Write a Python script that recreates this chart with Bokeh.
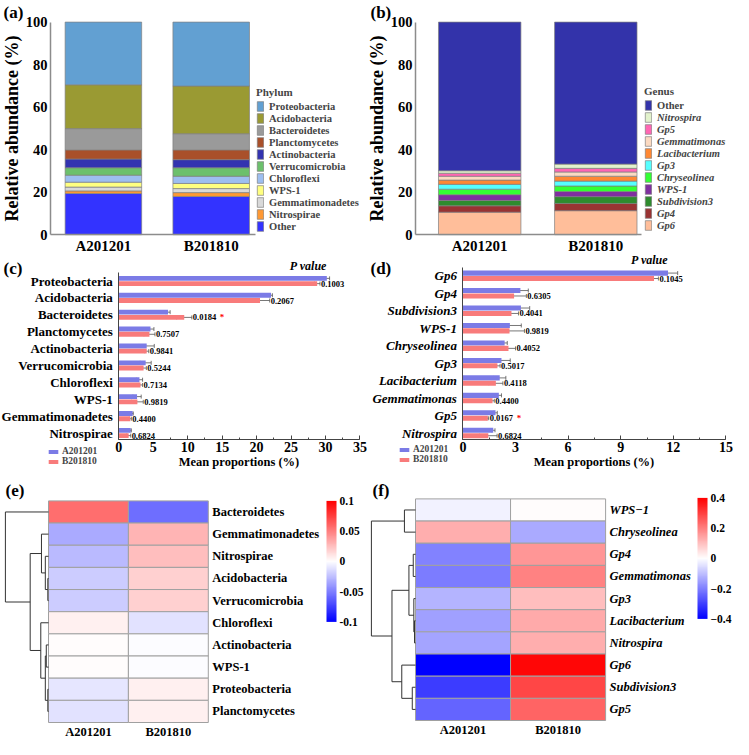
from bokeh.plotting import figure
from bokeh.models import (ColumnDataSource, Legend, LegendItem, FixedTicker, Whisker, TeeHead,
                          LinearColorMapper, ColorBar, Label, Range1d, SingleIntervalTicker)
from bokeh.layouts import column, row
from bokeh.transform import linear_cmap
from bokeh.embed import file_html
from bokeh.resources import INLINE
from bokeh.core.properties import value

FONT = "Liberation Serif"

# ---------------- data ----------------
samples = ["A201201", "B201810"]
abund_ticks = [0, 20, 40, 60, 80, 100]

# (a) phylum composition (stack order bottom -> top)
phylum_names = ["Other", "Nitrospirae", "Gemmatimonadetes", "WPS-1", "Chloroflexi", "Verrucomicrobia",
                "Actinobacteria", "Planctomycetes", "Bacteroidetes", "Acidobacteria", "Proteobacteria"]
phylum_A = [19.4, 1.2, 1.8, 2.3, 3.3, 3.5, 4.1, 4.3, 10.0, 20.6, 29.5]
phylum_B = [18.0, 1.8, 1.9, 2.4, 3.4, 4.0, 3.8, 4.6, 7.6, 22.4, 30.1]
phylum_colors = ["#3333FF", "#FF9933", "#D9D9D9", "#FFFF80", "#9DBEF0", "#6CC06C",
                 "#3333B0", "#A9502A", "#9A9A9A", "#9A9A33", "#62A0D2"]

# (b) genus composition (stack order bottom -> top)
genus_names = ["Gp6", "Gp4", "Subdivision3", "WPS-1", "Chryseolinea", "Gp3", "Lacibacterium",
               "Gemmatimonas", "Gp5", "Nitrospira", "Other"]
genus_A = [10.6, 3.0, 2.5, 2.7, 2.6, 2.3, 2.0, 1.8, 1.4, 1.2, 69.9]
genus_B = [11.3, 3.4, 3.2, 2.4, 2.6, 2.3, 2.3, 2.0, 1.7, 2.0, 66.8]
genus_colors = ["#FFBE9A", "#993333", "#2E8B2E", "#7F2F9F", "#33FF33", "#55FFFF", "#FF8833",
                "#FBDAC2", "#FF66B3", "#E2F2CC", "#3333AA"]

# (c) phylum mean proportions
c_names = ["Proteobacteria", "Acidobacteria", "Bacteroidetes", "Planctomycetes", "Actinobacteria",
           "Verrucomicrobia", "Chloroflexi", "WPS-1", "Gemmatimonadetes", "Nitrospirae"]
c_A = [30.2, 22.1, 7.15, 4.6, 4.05, 3.9, 3.0, 2.65, 2.0, 1.72]
c_A_err = [0.4, 0.2, 0.3, 0.5, 1.1, 0.8, 0.45, 0.6, 0.1, 0.1]
c_B = [28.8, 20.5, 9.5, 4.45, 4.05, 3.6, 3.15, 2.7, 1.67, 1.43]
c_B_err = [0.4, 1.4, 1.1, 0.8, 0.3, 0.4, 0.3, 0.85, 0.15, 0.3]
c_p = ["0.1003", "0.2067", "0.0184", "0.7507", "0.9841", "0.5244", "0.7134", "0.9819", "0.4400", "0.6824"]
c_sig = [False, False, True, False, False, False, False, False, False, False]

# (d) genus mean proportions
d_names = ["Gp6", "Gp4", "Subdivision3", "WPS-1", "Chryseolinea", "Gp3", "Lacibacterium",
           "Gemmatimonas", "Gp5", "Nitrospira"]
d_A = [11.7, 3.28, 3.31, 2.68, 2.38, 2.2, 2.1, 2.05, 1.86, 1.73]
d_A_err = [0.55, 0.45, 0.5, 0.65, 0.15, 0.5, 0.35, 0.15, 0.1, 0.1]
d_B = [10.9, 2.92, 2.77, 2.66, 2.6, 1.97, 1.88, 1.69, 1.42, 1.45]
d_B_err = [0.25, 0.7, 0.4, 0.85, 0.4, 0.15, 0.4, 0.1, 0.05, 0.5]
d_p = ["0.1045", "0.6305", "0.4041", "0.9819", "0.4052", "0.5017", "0.4118", "0.4400", "0.0167", "0.6824"]
d_sig = [False, False, False, False, False, False, False, False, True, False]

# (e) phylum heatmap (rows top -> bottom)
e_names = ["Bacteroidetes", "Gemmatimonadetes", "Nitrospirae", "Acidobacteria", "Verrucomicrobia",
           "Chloroflexi", "Actinobacteria", "WPS-1", "Proteobacteria", "Planctomycetes"]
e_A = [0.057, -0.033, -0.027, -0.020, -0.020, 0.006, 0.001, 0.001, -0.010, -0.011]
e_B = [-0.057, 0.029, 0.025, 0.018, 0.018, -0.011, -0.001, -0.001, 0.006, 0.006]
e_merges = [(3, 4), (8, 9), (6, 7), (2, 10), (12, 11), (1, 13), (5, 14), (15, 16), (0, 17)]
e_heights = [0.7, 0.7, 2.3, 3.3, 3.3, 7.3, 8.0, 19.0, 44.7]
e_cb_ticks = [-0.1, -0.05, 0, 0.05, 0.1]
e_cb_labels = ["-0.1", "-0.05", "0", "0.05", "0.1"]

# (f) genus heatmap (rows top -> bottom)
f_names = ["WPS\u22121", "Chryseolinea", "Gp4", "Gemmatimonas", "Gp3", "Lacibacterium",
           "Nitrospira", "Gp6", "Subdivision3", "Gp5"]
f_A = [-0.02, 0.125, -0.196, -0.204, -0.118, -0.149, -0.141, -0.40, -0.306, -0.243]
f_B = [0.005, -0.133, 0.165, 0.196, 0.102, 0.133, 0.125, 0.39, 0.29, 0.243]
f_merges = [(0, 1), (2, 3), (5, 6), (4, 12), (11, 13), (8, 9), (7, 15), (14, 16), (10, 17)]
f_heights = [11.3, 2.3, 1.0, 1.7, 6.7, 3.3, 14.0, 24.0, 45.0]
f_cb_ticks = [-0.4, -0.2, 0, 0.2, 0.4]
f_cb_labels = ["\u22120.4", "\u22120.2", "0", "0.2", "0.4"]

# ---------------- styling ----------------
A_COL = "#7B7BE6"
B_COL = "#F87B7B"
ERR_COL = "#555555"
AXIS_COL = "#8C8C8C"
ROW1_H, ROW2_H, ROW3_H = 254, 215, 270
W_L, W_R = 367, 366


def bwr(n=256):
    cols = []
    for i in range(n):
        t = i / (n - 1)
        if t < 0.5:
            s = t / 0.5
            r = g = int(round(255 * s)); b = 255
        else:
            s = (t - 0.5) / 0.5
            r = 255; g = b = int(round(255 * (1 - s)))
        cols.append("#%02x%02x%02x" % (r, g, b))
    return cols


PAL = bwr()


class Map:
    """pixel <-> data mapping for a figure whose frame fills the whole figure"""
    def __init__(self, d0, p0, d1, p1, size):
        self.u = (d1 - d0) / (p1 - p0)
        self.start = d0 - p0 * self.u
        self.end = self.start + size * self.u

    def data(self, px):
        return self.start + px * self.u

    def rng(self):
        return Range1d(self.start, self.end)


def xmap(d0, p0, d1, p1, W):
    return Map(d0, p0, d1, p1, W)


def ymap(d_bot, p_bot, d_top, p_top, H):
    # pixels are measured from the top of the figure
    return Map(d_bot, H - p_bot, d_top, H - p_top, H)


def base_fig(W, H, xm, ym, **kw):
    p = figure(width=W, height=H, x_range=xm.rng(), y_range=ym.rng(), output_backend="svg",
               toolbar_location=None, title=None, min_border=0, **kw)
    p.outline_line_color = None
    p.grid.visible = False
    p.background_fill_color = "white"
    p.border_fill_color = "white"
    return p


def letter_label(p, text, x, y_top, H):
    p.add_layout(Label(x=x, y=H - y_top, x_units="screen", y_units="screen", text=text,
                       text_baseline="top", text_font=FONT, text_font_size="17px",
                       text_font_style="bold", text_color="black"))


def axis_fonts(ax, size, style="bold"):
    ax.major_label_text_font = FONT
    ax.major_label_text_font_size = size
    ax.major_label_text_font_style = style
    ax.major_label_text_color = "black"
    ax.axis_label_text_font = FONT
    ax.axis_label_text_font_style = "bold"
    ax.axis_label_text_color = "black"


def style_legend(lg, style, size="10.5px"):
    lg.label_text_font = FONT
    lg.label_text_font_size = size
    lg.label_text_font_style = style
    lg.title_text_font = FONT
    lg.title_text_font_size = "11px"
    lg.title_text_font_style = "bold"
    lg.title_standoff = 2
    lg.glyph_width = 8
    lg.glyph_height = 12
    lg.label_height = 12
    lg.label_standoff = 5
    lg.spacing = 0
    lg.padding = 0
    lg.margin = 0
    lg.border_line_color = None
    lg.background_fill_alpha = 0


def stacked_panel(letter, names, va, vb, colors, legend_title, W, px1, px2, px_axis, px_axis_end,
                  leg_x, leg_bottom, italic):
    H = ROW1_H
    xm = xmap(1, px1, 2, px2, W)
    ym = ymap(0, 234.2, 100, 21.6, H)
    p = base_fig(W, H, xm, ym)
    letter_label(p, letter, 3, 2, H)
    keys = ["s%d" % i for i in range(len(names))]
    data = {"x": [1, 2]}
    for k, a, b in zip(keys, va, vb):
        data[k] = [a, b]
    src = ColumnDataSource(data)
    rs = p.vbar_stack(keys, x="x", width=0.71, source=src, color=colors,
                      line_color="#808080", line_width=0.7)
    order = list(reversed(range(len(names))))
    if italic:
        top_items = [LegendItem(label=names[i], renderers=[rs[i]]) for i in order if names[i] == "Other"]
        rest = [LegendItem(label=names[i], renderers=[rs[i]]) for i in order if names[i] != "Other"]
        lg2 = Legend(items=rest, location=(leg_x, leg_bottom))
        style_legend(lg2, "bold italic")
        lg1 = Legend(items=top_items, title=legend_title, location=(leg_x, leg_bottom + 12 * len(rest)))
        style_legend(lg1, "bold")
        p.add_layout(lg2)
        p.add_layout(lg1)
    else:
        items = [LegendItem(label=names[i], renderers=[rs[i]]) for i in order]
        lg = Legend(items=items, title=legend_title, location=(leg_x, leg_bottom))
        style_legend(lg, "bold")
        p.add_layout(lg)
    x_lo = xm.data(px_axis)
    p.xaxis.fixed_location = 0
    p.xaxis.bounds = (x_lo, xm.data(px_axis_end))
    p.xaxis.ticker = FixedTicker(ticks=[1, 2])
    p.xaxis.major_label_overrides = {1: samples[0], 2: samples[1]}
    p.yaxis.fixed_location = x_lo
    p.yaxis.bounds = (0, 100)
    p.yaxis.ticker = FixedTicker(ticks=abund_ticks)
    p.yaxis.axis_label = "Relative abundance (%)"
    for ax in (p.xaxis[0], p.yaxis[0]):
        ax.axis_line_color = AXIS_COL
        ax.axis_line_width = 1.5
        ax.major_tick_line_color = None
        ax.minor_tick_line_color = None
        ax.major_tick_out = 0
        ax.major_tick_in = 0
    axis_fonts(p.xaxis[0], "15px")
    axis_fonts(p.yaxis[0], "14.5px")
    p.yaxis.axis_label_text_font_size = "18px"
    p.yaxis.axis_label_standoff = 1
    p.xaxis.major_label_standoff = 3
    p.yaxis.major_label_standoff = 3
    return p


def bar_panel(letter, names, A, A_err, B, B_err, pvals, sig, xmax, step, label_style, W,
              px0, pxmax, py_top, py_bot, leg_x, leg_bottom):
    H = ROW2_H
    n = len(names)
    pos = list(range(n, 0, -1))
    xm = xmap(0, px0, xmax, pxmax, W)
    ym = ymap(1, py_bot, n, py_top, H)
    p = base_fig(W, H, xm, ym)
    letter_label(p, letter, 3, 4, H)
    yA = [v + 0.155 for v in pos]
    yB = [v - 0.155 for v in pos]
    src = ColumnDataSource(dict(
        yA=yA, yB=yB, A=A, B=B,
        A_lo=[a - e for a, e in zip(A, A_err)], A_hi=[a + e for a, e in zip(A, A_err)],
        B_lo=[b - e for b, e in zip(B, B_err)], B_hi=[b + e for b, e in zip(B, B_err)],
        tx=[b + e for b, e in zip(B, B_err)], p=pvals))
    rA = p.hbar(y="yA", left=0, right="A", height=0.29, source=src, fill_color=A_COL, line_color=None)
    rB = p.hbar(y="yB", left=0, right="B", height=0.29, source=src, fill_color=B_COL, line_color=None)
    for base, lo, hi in (("yA", "A_lo", "A_hi"), ("yB", "B_lo", "B_hi")):
        w = Whisker(source=src, base=base, lower=lo, upper=hi, dimension="width",
                    line_color=ERR_COL, line_width=0.8,
                    upper_head=TeeHead(size=4, line_color=ERR_COL, line_width=0.8),
                    lower_head=TeeHead(size=4, line_color=ERR_COL, line_width=0.8))
        p.add_layout(w)
    p.text(x="tx", y="yB", text="p", source=src, text_font=value(FONT), text_font_size="8.5px",
           text_font_style="bold", text_baseline="middle", x_offset=1, text_color="black")
    sig_src = ColumnDataSource(dict(
        x=[t for t, s in zip(src.data["tx"], sig) if s],
        y=[y for y, s in zip(yB, sig) if s]))
    p.text(x="x", y="y", text=value("*"), source=sig_src, text_font=value(FONT), text_font_size="9px",
           text_font_style="bold", text_baseline="middle", x_offset=28, text_color="red")
    p.add_layout(Label(x=max(A), y=n + 0.5, text="P value", text_align="right", text_baseline="bottom",
                       text_font=FONT, text_font_size="12px", text_font_style="bold italic",
                       text_color="black"))
    lg = Legend(items=[LegendItem(label=samples[0], renderers=[rA]),
                       LegendItem(label=samples[1], renderers=[rB])], location=(leg_x, leg_bottom))
    lg.label_text_font = FONT
    lg.label_text_font_size = "9.5px"
    lg.label_text_font_style = "bold"
    lg.glyph_width = 12
    lg.glyph_height = 5
    lg.label_height = 7
    lg.label_standoff = 3
    lg.spacing = 0
    lg.padding = 0
    lg.margin = 0
    lg.border_line_color = None
    lg.background_fill_alpha = 0
    p.add_layout(lg)
    p.xaxis.fixed_location = 0.6
    p.xaxis.bounds = (0, xmax)
    p.xaxis.ticker = SingleIntervalTicker(interval=step, num_minor_ticks=2)
    p.xaxis.axis_label = "Mean proportions (%)"
    p.yaxis.fixed_location = 0
    p.yaxis.bounds = (0.6, n + 0.5)
    p.yaxis.ticker = FixedTicker(ticks=pos)
    p.yaxis.major_label_overrides = {y: nm for y, nm in zip(pos, names)}
    for ax in (p.xaxis[0], p.yaxis[0]):
        ax.axis_line_color = "#444444"
        ax.axis_line_width = 1
    p.yaxis.major_tick_line_color = None
    p.yaxis.minor_tick_line_color = None
    p.yaxis.major_tick_out = 0
    p.xaxis.major_tick_in = 4
    p.xaxis.major_tick_out = 0
    p.xaxis.minor_tick_in = 2
    p.xaxis.minor_tick_out = 0
    p.xaxis.major_tick_line_color = "#444444"
    p.xaxis.minor_tick_line_color = "#444444"
    axis_fonts(p.xaxis[0], "14px")
    axis_fonts(p.yaxis[0], "13px", label_style)
    p.xaxis.axis_label_text_font_size = "12.5px"
    p.xaxis.axis_label_standoff = 0
    p.xaxis.major_label_standoff = 2
    p.yaxis.major_label_standoff = 6
    return p


def dendro_lines(n, merges, heights, leaf_x, scale):
    pos = {i: (leaf_x, n - 1 - i) for i in range(n)}
    xs, ys = [], []
    for k, ((a, b), h) in enumerate(zip(merges, heights)):
        xa, ya = pos[a]
        xb, yb = pos[b]
        xh = leaf_x - h * scale
        xs.append([xa, xh, xh, xb])
        ys.append([ya, ya, yb, yb])
        pos[n + k] = (xh, (ya + yb) / 2)
    return xs, ys


def heat_panel(letter, names, va, vb, lim, cb_ticks, cb_labels, merges, heights, label_style, W,
               px_left, px_right, py_top, py_bot, px_root, cb_x, cb_top, cb_h):
    H = ROW3_H
    n = len(names)
    xm = xmap(-0.5, px_left, 1.5, px_right, W)
    ym = ymap(-0.5, py_bot, n - 0.5, py_top, H)
    p = base_fig(W, H, xm, ym, y_axis_location="right")
    letter_label(p, letter, 5, 11, H)
    src = ColumnDataSource(dict(
        x=[0] * n + [1] * n,
        y=[n - 1 - i for i in range(n)] * 2,
        v=list(va) + list(vb)))
    p.rect(x="x", y="y", width=1, height=1, source=src,
           fill_color=linear_cmap("v", PAL, -lim, lim), line_color="#A0A0A0", line_width=1)
    scale = (-0.5 - xm.data(px_root)) / max(heights)
    xs, ys = dendro_lines(n, merges, heights, -0.5, scale)
    p.multi_line(xs=xs, ys=ys, line_color="#333333", line_width=1)
    mapper = LinearColorMapper(palette=PAL, low=-lim, high=lim)
    cb = ColorBar(color_mapper=mapper, width=10, height=cb_h, location=(cb_x, H - cb_top - cb_h), padding=0,
                  ticker=FixedTicker(ticks=cb_ticks),
                  major_label_overrides={t: l for t, l in zip(cb_ticks, cb_labels)},
                  major_tick_line_color=None, bar_line_color=None, border_line_color=None,
                  background_fill_alpha=0, label_standoff=3,
                  major_label_text_font=FONT, major_label_text_font_size="11.5px",
                  major_label_text_font_style="bold", major_label_text_color="black")
    p.add_layout(cb)
    p.xaxis.fixed_location = -0.5
    p.xaxis.ticker = FixedTicker(ticks=[0, 1])
    p.xaxis.major_label_overrides = {0: samples[0], 1: samples[1]}
    p.yaxis.fixed_location = 1.5
    p.yaxis.ticker = FixedTicker(ticks=[n - 1 - i for i in range(n)])
    p.yaxis.major_label_overrides = {n - 1 - i: nm for i, nm in enumerate(names)}
    for ax in (p.xaxis[0], p.yaxis[0]):
        ax.axis_line_color = None
        ax.major_tick_line_color = None
        ax.minor_tick_line_color = None
        ax.major_tick_out = 0
        ax.major_tick_in = 0
    axis_fonts(p.xaxis[0], "12.5px")
    axis_fonts(p.yaxis[0], "12.5px", label_style)
    p.xaxis.major_label_standoff = 2
    p.yaxis.major_label_standoff = 4
    return p


pa = stacked_panel("(a)", phylum_names, phylum_A, phylum_B, phylum_colors, "Phylum",
                   W_L, 102.9, 210.7, 50, 254.8, 256, 21.7, False)
pb = stacked_panel("(b)", genus_names, genus_A, genus_B, genus_colors, "Genus",
                   W_R, 112.2, 228.3, 48, 274.4, 277, 22.7, True)
pc = bar_panel("(c)", c_names, c_A, c_A_err, c_B, c_B_err, c_p, c_sig, 35, 5, "bold", W_L,
               118.3, 359.4, 26.5, 178.5, 47, 3)
pd = bar_panel("(d)", d_names, d_A, d_A_err, d_B, d_B_err, d_p, d_sig, 15, 3, "bold italic", W_R,
               95.4, 358.4, 21.3, 178.5, 31, 5)
pe = heat_panel("(e)", e_names, e_A, e_B, 0.1, e_cb_ticks, e_cb_labels, e_merges, e_heights, "bold",
                W_L, 48, 207.8, 31.4, 253, 4.9, 326, 31.4, 121)
pf = heat_panel("(f)", f_names, f_A, f_B, 0.4, f_cb_ticks, f_cb_labels, f_merges, f_heights, "bold italic",
                W_R, 48, 238.1, 29.4, 251, 3.9, 330, 28.4, 121)

layout = column(row(pa, pb), row(pc, pd), row(pe, pf))
open("out.html", "w").write(file_html(layout, INLINE))
